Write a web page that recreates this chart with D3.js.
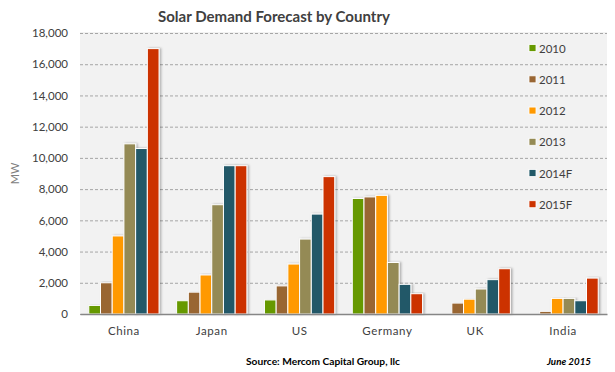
<!DOCTYPE html>
<html>
<head>
<meta charset="utf-8">
<script src="https://d3js.org/d3.v7.min.js"></script>
<style>
  body { margin: 0; background: #fff; }
  svg { display: block; }
  text { font-family: Lato, "Open Sans", sans-serif; }
</style>
</head>
<body>
<div id="chart"></div>
<script>
// chart data
let countries = ['China', 'Japan', 'US', 'Germany', 'UK', 'India'];
let years = ['2010', '2011', '2012', '2013', '2014F', '2015F'];
let yearColors = ['#669900', '#996633', '#ff9900', '#948a54', '#215968', '#cc3300'];
// one array per country, in the order of `years`
let china = [550, 2000, 5000, 10900, 10600, 17000];
let japan = [850, 1400, 2500, 7000, 9500, 9500];
let us = [900, 1800, 3200, 4800, 6400, 8800];
let germany = [7400, 7500, 7600, 3300, 1900, 1300];
let uk = [0, 700, 950, 1600, 2200, 2900];
let india = [0, 170, 1000, 1000, 850, 2300];
let yTicks = [0, 2000, 4000, 6000, 8000, 10000, 12000, 14000, 16000, 18000];

let values = [china, japan, us, germany, uk, india];

let width = 615;
let height = 372;
let plot = {left: 80, right: 607, top: 33, bottom: 314};

let svg = d3.select('#chart')
		.append('svg')
		.attr('width', width)
		.attr('height', height);

// soft shadow on the right side of each bar
let filter = svg.append('defs')
		.append('filter')
		.attr('id', 'shadow')
		.attr('x', '-20%').attr('y', '-5%')
		.attr('width', '160%').attr('height', '110%');
filter.append('feDropShadow')
		.attr('dx', 1.5)
		.attr('dy', 0)
		.attr('stdDeviation', 0.8)
		.attr('flood-color', '#000')
		.attr('flood-opacity', 0.3);

let xScale = d3.scaleBand()
		.domain(countries)
		.range([plot.left, plot.right])
		.paddingInner(0.2)
		.paddingOuter(0.1);

let xInner = d3.scaleBand()
		.domain(years)
		.range([0, xScale.bandwidth()])
		.padding(0);

let yScale = d3.scaleLinear()
		.domain([0, 18000])
		.range([plot.bottom, plot.top]);

let color = d3.scaleOrdinal()
		.domain(years)
		.range(yearColors);

// plot background
svg.append('rect')
		.attr('x', plot.left)
		.attr('y', plot.top - 1)
		.attr('width', plot.right - plot.left)
		.attr('height', plot.bottom - plot.top + 1)
		.attr('fill', '#f2f2f2');

// gridlines + tick labels
let yAxis = svg.append('g')
		.attr('transform', `translate(${plot.left},0)`)
		.call(d3.axisLeft(yScale)
				.tickValues(yTicks)
				.tickSize(-(plot.right - plot.left))
				.tickPadding(12)
				.tickFormat(d3.format(',')));
yAxis.select('.domain').remove();
yAxis.selectAll('.tick line')
		.attr('stroke', '#a6a6a6')
		.attr('stroke-dasharray', '3,2')
		.attr('stroke-width', 1);
yAxis.selectAll('.tick text')
		.attr('fill', '#404040')
		.style('font-size', '11.5px');

svg.append('text')
		.attr('transform', `translate(19,${(plot.top + plot.bottom) / 2}) rotate(-90)`)
		.attr('text-anchor', 'middle')
		.attr('fill', '#808080')
		.style('font-size', '11px')
		.text('MW');

// bars
let groups = svg.append('g')
		.selectAll('g')
		.data(countries)
		.enter()
		.append('g')
		.attr('transform', d => `translate(${xScale(d)},0)`);

groups.selectAll('rect')
		.data((c, i) => years.map((y, j) => ({year: y, value: values[i][j]})))
		.enter()
		.filter(d => d.value > 0)
		.append('rect')
		.attr('x', d => xInner(d.year))
		.attr('y', d => yScale(d.value))
		.attr('width', xInner.bandwidth())
		.attr('height', d => yScale(0) - yScale(d.value))
		.attr('fill', d => color(d.year))
		.attr('stroke', '#fff')
		.attr('stroke-width', 1)
		.attr('filter', 'url(#shadow)');

// baseline + country labels
let xAxis = svg.append('g')
		.attr('transform', `translate(0,${plot.bottom})`)
		.call(d3.axisBottom(xScale).tickSize(0).tickPadding(13));
xAxis.select('.domain')
		.attr('stroke', '#868686')
		.attr('stroke-width', 1.5);
xAxis.selectAll('.tick text')
		.attr('fill', '#404040')
		.style('font-size', '11.5px')
		.style('letter-spacing', '0.6px');

// legend
let legend = svg.append('g')
		.selectAll('g')
		.data(years)
		.enter()
		.append('g')
		.attr('transform', (d, i) => `translate(529,${yScale(17000 - i * 2000)})`);

legend.append('rect')
		.attr('x', 0)
		.attr('y', -4)
		.attr('width', 7)
		.attr('height', 7)
		.attr('fill', d => color(d))
		.attr('stroke', '#fff')
		.attr('stroke-width', 0.8);

legend.append('text')
		.attr('x', 10)
		.attr('y', 0)
		.attr('dy', '0.35em')
		.attr('fill', '#404040')
		.style('font-size', '11.5px')
		.text(d => d);

// title + footer
svg.append('text')
		.attr('x', 274)
		.attr('y', 22)
		.attr('text-anchor', 'middle')
		.attr('fill', '#404040')
		.attr('textLength', 232)
		.attr('lengthAdjust', 'spacingAndGlyphs')
		.style('font-size', '16px')
		.style('font-weight', 'bold')
		.text('Solar Demand Forecast by Country');

svg.append('text')
		.attr('x', 246)
		.attr('y', 365)
		.attr('fill', '#000')
		.attr('textLength', 154)
		.attr('lengthAdjust', 'spacingAndGlyphs')
		.style('font-size', '10px')
		.style('font-weight', 'bold')
		.text('Source: Mercom Capital Group, llc');

svg.append('text')
		.attr('x', 547)
		.attr('y', 365)
		.attr('fill', '#000')
		.attr('textLength', 44)
		.attr('lengthAdjust', 'spacingAndGlyphs')
		.style('font-size', '10px')
		.style('font-weight', 'bold')
		.style('font-style', 'italic')
		.text('June 2015');
</script>
</body>
</html>
